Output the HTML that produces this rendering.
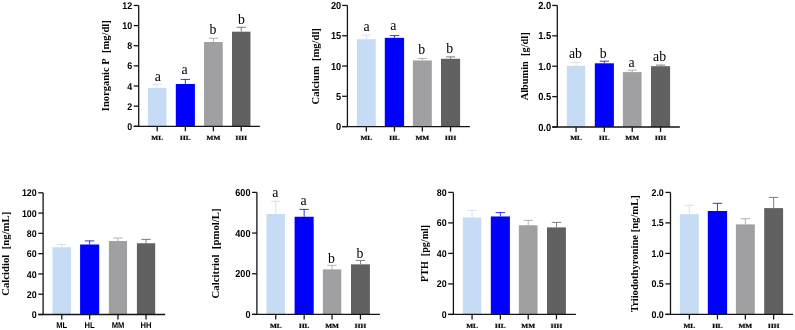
<!DOCTYPE html>
<html><head><meta charset="utf-8"><style>
html,body{margin:0;padding:0;background:#fff;}
svg{display:block;will-change:transform;}
.lt{font-family:"Liberation Serif", serif;font-size:13.8px;text-anchor:middle;}
.xr{font-family:"Liberation Serif", serif;font-weight:bold;font-size:7.3px;text-anchor:middle;stroke:#000;stroke-width:0.25px;text-rendering:geometricPrecision;}
.xs{font-family:"Liberation Sans", sans-serif;font-weight:bold;font-size:7.6px;text-anchor:middle;text-rendering:geometricPrecision;}
.tk{font-family:"Liberation Sans", sans-serif;font-weight:bold;text-anchor:end;text-rendering:geometricPrecision;}
.yl{font-family:"Liberation Serif", serif;font-weight:bold;text-anchor:middle;}
</style></head><body>
<svg width="795" height="330" viewBox="0 0 795 330">
<rect width="795" height="330" fill="#fff"/>
<rect x="147.9" y="87.9" width="18.65" height="38.4" fill="#c6dcf5"/>
<path d="M157.23 87.9V84.37M152.53 84.37H161.93" stroke="#c6dcf5" stroke-width="0.95" stroke-opacity="0.85" fill="none"/>
<text x="157.85" y="80.7" class="lt">a</text>
<path d="M157.23 126.3V131.3" stroke="#141414" stroke-width="1.3"/>
<text transform="translate(157.23 139.6) scale(1 0.85)" class="xr">ML</text>
<rect x="175.8" y="84" width="19.1" height="42.3" fill="#0000ff"/>
<path d="M185.35 84V79.4M180.65 79.4H190.05" stroke="#0000ff" stroke-width="0.95" stroke-opacity="0.85" fill="none"/>
<text x="184.6" y="74.3" class="lt">a</text>
<path d="M185.35 126.3V131.3" stroke="#141414" stroke-width="1.3"/>
<text transform="translate(185.35 139.6) scale(1 0.85)" class="xr">HL</text>
<rect x="204.05" y="42" width="18.7" height="84.3" fill="#a0a0a3"/>
<path d="M213.4 42V38.3M208.7 38.3H218.1" stroke="#a0a0a3" stroke-width="0.95" stroke-opacity="0.85" fill="none"/>
<text x="212.95" y="33.6" class="lt">b</text>
<path d="M213.4 126.3V131.3" stroke="#141414" stroke-width="1.3"/>
<text transform="translate(213.4 139.6) scale(1 0.85)" class="xr">MM</text>
<rect x="232" y="31.7" width="18.45" height="94.6" fill="#616161"/>
<path d="M241.22 31.7V27.3M236.53 27.3H245.92" stroke="#616161" stroke-width="0.95" stroke-opacity="0.85" fill="none"/>
<text x="241.45" y="24.2" class="lt">b</text>
<path d="M241.22 126.3V131.3" stroke="#141414" stroke-width="1.3"/>
<text transform="translate(241.22 139.6) scale(1 0.85)" class="xr">HH</text>
<path d="M138.7 5.45V126.3M133.7 126.3H259.85" stroke="#141414" stroke-width="1.3" fill="none"/>
<path d="M133.7 126.3H138.7" stroke="#141414" stroke-width="1.3"/>
<text transform="translate(132.1 129.88) scale(1 1.1)" class="tk" font-size="8.9">0</text>
<path d="M133.7 106.16H138.7" stroke="#141414" stroke-width="1.3"/>
<text transform="translate(132.1 109.73) scale(1 1.1)" class="tk" font-size="8.9">2</text>
<path d="M133.7 86.02H138.7" stroke="#141414" stroke-width="1.3"/>
<text transform="translate(132.1 89.59) scale(1 1.1)" class="tk" font-size="8.9">4</text>
<path d="M133.7 65.88H138.7" stroke="#141414" stroke-width="1.3"/>
<text transform="translate(132.1 69.45) scale(1 1.1)" class="tk" font-size="8.9">6</text>
<path d="M133.7 45.73H138.7" stroke="#141414" stroke-width="1.3"/>
<text transform="translate(132.1 49.31) scale(1 1.1)" class="tk" font-size="8.9">8</text>
<path d="M133.7 25.59H138.7" stroke="#141414" stroke-width="1.3"/>
<text transform="translate(132.1 29.17) scale(1 1.1)" class="tk" font-size="8.9">10</text>
<path d="M133.7 5.45H138.7" stroke="#141414" stroke-width="1.3"/>
<text transform="translate(132.1 9.03) scale(1 1.1)" class="tk" font-size="8.9">12</text>
<text transform="translate(108.6 65.75) rotate(-90)" class="yl" font-size="10.52">Inorganic P  [mg/dl]</text>
<rect x="356.9" y="39.2" width="18.9" height="87.4" fill="#c6dcf5"/>
<path d="M366.35 39.2V35.2M361.65 35.2H371.05" stroke="#c6dcf5" stroke-width="0.95" stroke-opacity="0.85" fill="none"/>
<text x="366.5" y="30.8" class="lt">a</text>
<path d="M366.35 126.6V131.6" stroke="#141414" stroke-width="1.3"/>
<text transform="translate(366.35 139.9) scale(1 0.85)" class="xr">ML</text>
<rect x="384.8" y="37.85" width="19.3" height="88.75" fill="#0000ff"/>
<path d="M394.45 37.85V35.6M389.75 35.6H399.15" stroke="#0000ff" stroke-width="0.95" stroke-opacity="0.85" fill="none"/>
<text x="393.3" y="30.1" class="lt">a</text>
<path d="M394.45 126.6V131.6" stroke="#141414" stroke-width="1.3"/>
<text transform="translate(394.45 139.9) scale(1 0.85)" class="xr">HL</text>
<rect x="412.9" y="60.45" width="18.9" height="66.15" fill="#a0a0a3"/>
<path d="M422.35 60.45V58.4M417.65 58.4H427.05" stroke="#a0a0a3" stroke-width="0.95" stroke-opacity="0.85" fill="none"/>
<text x="421.75" y="53.6" class="lt">b</text>
<path d="M422.35 126.6V131.6" stroke="#141414" stroke-width="1.3"/>
<text transform="translate(422.35 139.9) scale(1 0.85)" class="xr">MM</text>
<rect x="441" y="58.8" width="19.1" height="67.8" fill="#616161"/>
<path d="M450.55 58.8V56.9M445.85 56.9H455.25" stroke="#616161" stroke-width="0.95" stroke-opacity="0.85" fill="none"/>
<text x="449.75" y="52.5" class="lt">b</text>
<path d="M450.55 126.6V131.6" stroke="#141414" stroke-width="1.3"/>
<text transform="translate(450.55 139.9) scale(1 0.85)" class="xr">HH</text>
<path d="M347.4 5.45V126.6M342.1 126.6H469.85" stroke="#141414" stroke-width="1.3" fill="none"/>
<path d="M342.1 126.6H347.4" stroke="#141414" stroke-width="1.3"/>
<text transform="translate(341.2 130.17) scale(1 1.1)" class="tk" font-size="9.25">0</text>
<path d="M342.1 96.31H347.4" stroke="#141414" stroke-width="1.3"/>
<text transform="translate(341.2 99.89) scale(1 1.1)" class="tk" font-size="9.25">5</text>
<path d="M342.1 66.03H347.4" stroke="#141414" stroke-width="1.3"/>
<text transform="translate(341.2 69.6) scale(1 1.1)" class="tk" font-size="9.25">10</text>
<path d="M342.1 35.74H347.4" stroke="#141414" stroke-width="1.3"/>
<text transform="translate(341.2 39.31) scale(1 1.1)" class="tk" font-size="9.25">15</text>
<path d="M342.1 5.45H347.4" stroke="#141414" stroke-width="1.3"/>
<text transform="translate(341.2 9.03) scale(1 1.1)" class="tk" font-size="9.25">20</text>
<text transform="translate(318.8 66.3) rotate(-90)" class="yl" font-size="10.57">Calcium  [mg/dl]</text>
<rect x="566.9" y="65.8" width="18.35" height="61.2" fill="#c6dcf5"/>
<path d="M576.08 65.8V62.3M571.38 62.3H580.78" stroke="#c6dcf5" stroke-width="0.95" stroke-opacity="0.85" fill="none"/>
<text x="575.5" y="57.9" class="lt">ab</text>
<path d="M576.08 127V132" stroke="#141414" stroke-width="1.3"/>
<text transform="translate(576.08 140.3) scale(1 0.85)" class="xr">ML</text>
<rect x="594.8" y="63.3" width="19.1" height="63.7" fill="#0000ff"/>
<path d="M604.35 63.3V61.2M599.65 61.2H609.05" stroke="#0000ff" stroke-width="0.95" stroke-opacity="0.85" fill="none"/>
<text x="603.15" y="57.9" class="lt">b</text>
<path d="M604.35 127V132" stroke="#141414" stroke-width="1.3"/>
<text transform="translate(604.35 140.3) scale(1 0.85)" class="xr">HL</text>
<rect x="622.9" y="72.1" width="18.65" height="54.9" fill="#a0a0a3"/>
<path d="M632.22 72.1V70.15M627.52 70.15H636.92" stroke="#a0a0a3" stroke-width="0.95" stroke-opacity="0.85" fill="none"/>
<text x="631.5" y="66.8" class="lt">a</text>
<path d="M632.22 127V132" stroke="#141414" stroke-width="1.3"/>
<text transform="translate(632.22 140.3) scale(1 0.85)" class="xr">MM</text>
<rect x="651" y="66.2" width="19.1" height="60.8" fill="#616161"/>
<path d="M660.55 66.2V65.1M655.85 65.1H665.25" stroke="#616161" stroke-width="0.95" stroke-opacity="0.85" fill="none"/>
<text x="659.6" y="61.2" class="lt">ab</text>
<path d="M660.55 127V132" stroke="#141414" stroke-width="1.3"/>
<text transform="translate(660.55 140.3) scale(1 0.85)" class="xr">HH</text>
<path d="M557.3 5.45V127M552.2 127H679.85" stroke="#141414" stroke-width="1.3" fill="none"/>
<path d="M552.2 127H557.3" stroke="#141414" stroke-width="1.3"/>
<text transform="translate(551.2 130.57) scale(1 1.1)" class="tk" font-size="9.4">0.0</text>
<path d="M552.2 96.61H557.3" stroke="#141414" stroke-width="1.3"/>
<text transform="translate(551.2 100.19) scale(1 1.1)" class="tk" font-size="9.4">0.5</text>
<path d="M552.2 66.22H557.3" stroke="#141414" stroke-width="1.3"/>
<text transform="translate(551.2 69.8) scale(1 1.1)" class="tk" font-size="9.4">1.0</text>
<path d="M552.2 35.84H557.3" stroke="#141414" stroke-width="1.3"/>
<text transform="translate(551.2 39.41) scale(1 1.1)" class="tk" font-size="9.4">1.5</text>
<path d="M552.2 5.45H557.3" stroke="#141414" stroke-width="1.3"/>
<text transform="translate(551.2 9.03) scale(1 1.1)" class="tk" font-size="9.4">2.0</text>
<text transform="translate(527.8 66.35) rotate(-90)" class="yl" font-size="10.36">Albumin  [g/dl]</text>
<rect x="52.5" y="247.25" width="18.5" height="67.25" fill="#c6dcf5"/>
<path d="M61.75 247.25V244.5M57.05 244.5H66.45" stroke="#c6dcf5" stroke-width="0.95" stroke-opacity="0.85" fill="none"/>
<path d="M61.75 314.5V319.5" stroke="#141414" stroke-width="1.3"/>
<text transform="translate(61.75 327.8) scale(1 1.08)" class="xs">ML</text>
<rect x="80.1" y="244.5" width="19.1" height="70" fill="#0000ff"/>
<path d="M89.65 244.5V240.9M84.95 240.9H94.35" stroke="#0000ff" stroke-width="0.95" stroke-opacity="0.85" fill="none"/>
<path d="M89.65 314.5V319.5" stroke="#141414" stroke-width="1.3"/>
<text transform="translate(89.65 327.8) scale(1 1.08)" class="xs">HL</text>
<rect x="108.9" y="241" width="18.15" height="73.5" fill="#a0a0a3"/>
<path d="M117.97 241V238M113.27 238H122.67" stroke="#a0a0a3" stroke-width="0.95" stroke-opacity="0.85" fill="none"/>
<path d="M117.97 314.5V319.5" stroke="#141414" stroke-width="1.3"/>
<text transform="translate(117.97 327.8) scale(1 1.08)" class="xs">MM</text>
<rect x="136.9" y="243.25" width="18.3" height="71.25" fill="#616161"/>
<path d="M146.05 243.25V239.4M141.35 239.4H150.75" stroke="#616161" stroke-width="0.95" stroke-opacity="0.85" fill="none"/>
<path d="M146.05 314.5V319.5" stroke="#141414" stroke-width="1.3"/>
<text transform="translate(146.05 327.8) scale(1 1.08)" class="xs">HH</text>
<path d="M43.1 192.8V314.5M38.3 314.5H165.2" stroke="#141414" stroke-width="1.3" fill="none"/>
<path d="M38.3 314.5H43.1" stroke="#141414" stroke-width="1.3"/>
<text transform="translate(36.7 318.07) scale(1 1.1)" class="tk" font-size="8.9">0</text>
<path d="M38.3 294.22H43.1" stroke="#141414" stroke-width="1.3"/>
<text transform="translate(36.7 297.79) scale(1 1.1)" class="tk" font-size="8.9">20</text>
<path d="M38.3 273.93H43.1" stroke="#141414" stroke-width="1.3"/>
<text transform="translate(36.7 277.51) scale(1 1.1)" class="tk" font-size="8.9">40</text>
<path d="M38.3 253.65H43.1" stroke="#141414" stroke-width="1.3"/>
<text transform="translate(36.7 257.23) scale(1 1.1)" class="tk" font-size="8.9">60</text>
<path d="M38.3 233.37H43.1" stroke="#141414" stroke-width="1.3"/>
<text transform="translate(36.7 236.94) scale(1 1.1)" class="tk" font-size="8.9">80</text>
<path d="M38.3 213.08H43.1" stroke="#141414" stroke-width="1.3"/>
<text transform="translate(36.7 216.66) scale(1 1.1)" class="tk" font-size="8.9">100</text>
<path d="M38.3 192.8H43.1" stroke="#141414" stroke-width="1.3"/>
<text transform="translate(36.7 196.38) scale(1 1.1)" class="tk" font-size="8.9">120</text>
<text transform="translate(9.3 253.75) rotate(-90)" class="yl" font-size="10.74">Calcidiol  [ng/mL]</text>
<rect x="266.5" y="214" width="18.5" height="100.4" fill="#c6dcf5"/>
<path d="M275.75 214V201.3M271.05 201.3H280.45" stroke="#c6dcf5" stroke-width="0.95" stroke-opacity="0.85" fill="none"/>
<text x="275.35" y="196.6" class="lt">a</text>
<path d="M275.75 314.4V319.4" stroke="#141414" stroke-width="1.3"/>
<text transform="translate(275.75 327.7) scale(1 0.85)" class="xr">ML</text>
<rect x="294.6" y="216.75" width="19.1" height="97.65" fill="#0000ff"/>
<path d="M304.15 216.75V209.4M299.45 209.4H308.85" stroke="#0000ff" stroke-width="0.95" stroke-opacity="0.85" fill="none"/>
<text x="303.65" y="204.5" class="lt">a</text>
<path d="M304.15 314.4V319.4" stroke="#141414" stroke-width="1.3"/>
<text transform="translate(304.15 327.7) scale(1 0.85)" class="xr">HL</text>
<rect x="322.9" y="269.4" width="18.35" height="45" fill="#a0a0a3"/>
<path d="M332.07 269.4V265.35M327.38 265.35H336.77" stroke="#a0a0a3" stroke-width="0.95" stroke-opacity="0.85" fill="none"/>
<text x="331.55" y="262.5" class="lt">b</text>
<path d="M332.07 314.4V319.4" stroke="#141414" stroke-width="1.3"/>
<text transform="translate(332.07 327.7) scale(1 0.85)" class="xr">MM</text>
<rect x="351" y="264.35" width="18.9" height="50.05" fill="#616161"/>
<path d="M360.45 264.35V260.45M355.75 260.45H365.15" stroke="#616161" stroke-width="0.95" stroke-opacity="0.85" fill="none"/>
<text x="360" y="257.5" class="lt">b</text>
<path d="M360.45 314.4V319.4" stroke="#141414" stroke-width="1.3"/>
<text transform="translate(360.45 327.7) scale(1 0.85)" class="xr">HH</text>
<path d="M256.9 192.4V314.4M252.1 314.4H379.85" stroke="#141414" stroke-width="1.3" fill="none"/>
<path d="M252.1 314.4H256.9" stroke="#141414" stroke-width="1.3"/>
<text transform="translate(250.5 317.97) scale(1 1.1)" class="tk" font-size="9.15">0</text>
<path d="M252.1 273.73H256.9" stroke="#141414" stroke-width="1.3"/>
<text transform="translate(250.5 277.31) scale(1 1.1)" class="tk" font-size="9.15">200</text>
<path d="M252.1 233.07H256.9" stroke="#141414" stroke-width="1.3"/>
<text transform="translate(250.5 236.64) scale(1 1.1)" class="tk" font-size="9.15">400</text>
<path d="M252.1 192.4H256.9" stroke="#141414" stroke-width="1.3"/>
<text transform="translate(250.5 195.98) scale(1 1.1)" class="tk" font-size="9.15">600</text>
<text transform="translate(218.9 253.4) rotate(-90)" class="yl" font-size="10.82">Calcitriol  [pmol/L]</text>
<rect x="462.9" y="217.45" width="18.35" height="96.95" fill="#c6dcf5"/>
<path d="M472.07 217.45V210.45M467.38 210.45H476.77" stroke="#c6dcf5" stroke-width="0.95" stroke-opacity="0.85" fill="none"/>
<path d="M472.07 314.4V319.4" stroke="#141414" stroke-width="1.3"/>
<text transform="translate(472.07 327.7) scale(1 0.85)" class="xr">ML</text>
<rect x="490.8" y="216.45" width="19.1" height="97.95" fill="#0000ff"/>
<path d="M500.35 216.45V212.6M495.65 212.6H505.05" stroke="#0000ff" stroke-width="0.95" stroke-opacity="0.85" fill="none"/>
<path d="M500.35 314.4V319.4" stroke="#141414" stroke-width="1.3"/>
<text transform="translate(500.35 327.7) scale(1 0.85)" class="xr">HL</text>
<rect x="518.9" y="225.25" width="18.65" height="89.15" fill="#a0a0a3"/>
<path d="M528.22 225.25V220.4M523.52 220.4H532.92" stroke="#a0a0a3" stroke-width="0.95" stroke-opacity="0.85" fill="none"/>
<path d="M528.22 314.4V319.4" stroke="#141414" stroke-width="1.3"/>
<text transform="translate(528.22 327.7) scale(1 0.85)" class="xr">MM</text>
<rect x="547" y="227.4" width="18.9" height="87" fill="#616161"/>
<path d="M556.45 227.4V222.4M551.75 222.4H561.15" stroke="#616161" stroke-width="0.95" stroke-opacity="0.85" fill="none"/>
<path d="M556.45 314.4V319.4" stroke="#141414" stroke-width="1.3"/>
<text transform="translate(556.45 327.7) scale(1 0.85)" class="xr">HH</text>
<path d="M453.4 192.4V314.4M448.2 314.4H575.9" stroke="#141414" stroke-width="1.3" fill="none"/>
<path d="M448.2 314.4H453.4" stroke="#141414" stroke-width="1.3"/>
<text transform="translate(446.6 317.97) scale(1 1.1)" class="tk" font-size="8.9">0</text>
<path d="M448.2 283.9H453.4" stroke="#141414" stroke-width="1.3"/>
<text transform="translate(446.6 287.47) scale(1 1.1)" class="tk" font-size="8.9">20</text>
<path d="M448.2 253.4H453.4" stroke="#141414" stroke-width="1.3"/>
<text transform="translate(446.6 256.97) scale(1 1.1)" class="tk" font-size="8.9">40</text>
<path d="M448.2 222.9H453.4" stroke="#141414" stroke-width="1.3"/>
<text transform="translate(446.6 226.47) scale(1 1.1)" class="tk" font-size="8.9">60</text>
<path d="M448.2 192.4H453.4" stroke="#141414" stroke-width="1.3"/>
<text transform="translate(446.6 195.97) scale(1 1.1)" class="tk" font-size="8.9">80</text>
<text transform="translate(428 253.4) rotate(-90)" class="yl" font-size="10.1">PTH  [pg/ml]</text>
<rect x="679.9" y="214.2" width="18.9" height="100.2" fill="#c6dcf5"/>
<path d="M689.35 214.2V205.35M684.65 205.35H694.05" stroke="#c6dcf5" stroke-width="0.95" stroke-opacity="0.85" fill="none"/>
<path d="M689.35 314.4V319.4" stroke="#141414" stroke-width="1.3"/>
<text transform="translate(689.35 327.7) scale(1 0.85)" class="xr">ML</text>
<rect x="707.8" y="211" width="19.3" height="103.4" fill="#0000ff"/>
<path d="M717.45 211V203.3M712.75 203.3H722.15" stroke="#0000ff" stroke-width="0.95" stroke-opacity="0.85" fill="none"/>
<path d="M717.45 314.4V319.4" stroke="#141414" stroke-width="1.3"/>
<text transform="translate(717.45 327.7) scale(1 0.85)" class="xr">HL</text>
<rect x="735.9" y="224.4" width="18.9" height="90" fill="#a0a0a3"/>
<path d="M745.35 224.4V218.7M740.65 218.7H750.05" stroke="#a0a0a3" stroke-width="0.95" stroke-opacity="0.85" fill="none"/>
<path d="M745.35 314.4V319.4" stroke="#141414" stroke-width="1.3"/>
<text transform="translate(745.35 327.7) scale(1 0.85)" class="xr">MM</text>
<rect x="764.2" y="208.1" width="18.9" height="106.3" fill="#616161"/>
<path d="M773.65 208.1V197.4M768.95 197.4H778.35" stroke="#616161" stroke-width="0.95" stroke-opacity="0.85" fill="none"/>
<path d="M773.65 314.4V319.4" stroke="#141414" stroke-width="1.3"/>
<text transform="translate(773.65 327.7) scale(1 0.85)" class="xr">HH</text>
<path d="M670.5 192.4V314.4M665.4 314.4H793" stroke="#141414" stroke-width="1.3" fill="none"/>
<path d="M665.4 314.4H670.5" stroke="#141414" stroke-width="1.3"/>
<text transform="translate(663.8 317.97) scale(1 1.1)" class="tk" font-size="8.9">0.0</text>
<path d="M665.4 283.9H670.5" stroke="#141414" stroke-width="1.3"/>
<text transform="translate(663.8 287.47) scale(1 1.1)" class="tk" font-size="8.9">0.5</text>
<path d="M665.4 253.4H670.5" stroke="#141414" stroke-width="1.3"/>
<text transform="translate(663.8 256.97) scale(1 1.1)" class="tk" font-size="8.9">1.0</text>
<path d="M665.4 222.9H670.5" stroke="#141414" stroke-width="1.3"/>
<text transform="translate(663.8 226.47) scale(1 1.1)" class="tk" font-size="8.9">1.5</text>
<path d="M665.4 192.4H670.5" stroke="#141414" stroke-width="1.3"/>
<text transform="translate(663.8 195.97) scale(1 1.1)" class="tk" font-size="8.9">2.0</text>
<text transform="translate(637.7 253.75) rotate(-90)" class="yl" font-size="10.6">Triiodothyronine [ng/mL]</text>
</svg>
</body></html>
